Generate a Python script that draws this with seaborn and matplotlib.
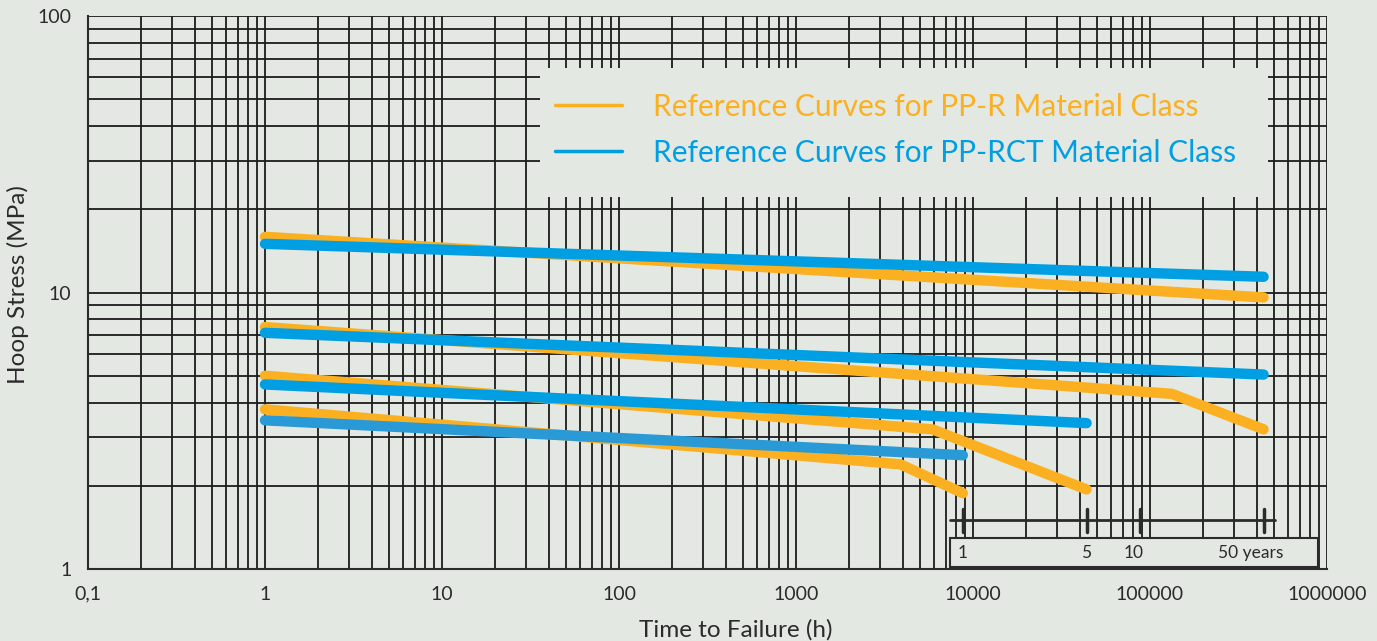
import numpy as np
import pandas as pd
import matplotlib
matplotlib.use("Agg")
import matplotlib.pyplot as plt
from matplotlib.patches import Rectangle
import seaborn as sns

# reference curves: (time in h, hoop stress in MPa)
ppr_times = [
    [1, 438000],
    [1, 133000, 438000],
    [1, 5900, 43800],
    [1, 3900, 8760],
]
ppr_stress = [
    [15.9, 9.6],
    [7.5, 4.3, 3.2],
    [5.0, 3.2, 1.94],
    [3.78, 2.39, 1.88],
]
rct_times = [
    [1, 438000],
    [1, 438000],
    [1, 43800],
    [1, 8760],
]
rct_stress = [
    [15.0, 11.4],
    [7.15, 5.05],
    [4.65, 3.37],
    [3.45, 2.58],
]

year_hours = [8760, 43800, 87600, 438000]
year_labels = ["1", "5", "10", "50 years"]

x_ticks = [0.1, 1, 10, 100, 1000, 10000, 100000, 1000000]
x_tick_labels = ["0,1", "1", "10", "100", "1000", "10000", "100000", "1000000"]
y_ticks = [1, 10, 100]
y_tick_labels = ["1", "10", "100"]

BG = "#e3e8e2"
ORANGE = "#fbb022"
BLUE = "#009fe3"
BLUE_LOW = "#2a9ad6"
INK = "#2b2b2b"

rows = []
for i, (t, s) in enumerate(zip(ppr_times, ppr_stress)):
    for tt, ss in zip(t, s):
        rows.append(("PP-R", f"r{i}", tt, ss))
for i, (t, s) in enumerate(zip(rct_times, rct_stress)):
    for tt, ss in zip(t, s):
        rows.append(("PP-RCT", f"c{i}", tt, ss))
df = pd.DataFrame(rows, columns=["material", "curve", "time", "stress"])

sns.set_theme(style="white")
plt.rcParams["font.family"] = ["Lato", "DejaVu Sans"]

fig = plt.figure(figsize=(13.77, 6.41), dpi=100, facecolor=BG)
ax = fig.add_axes([0.0639, 0.1123, 0.8998, 0.8627])
ax.set_facecolor(BG)
ax.set_xscale("log")
ax.set_yscale("log")
ax.set_xlim(0.1, 1e6)
ax.set_ylim(1, 100)

ax.set_axisbelow(True)
ax.grid(True, which="both", color="#1c1c1c", linewidth=1.3)

colors = {"r0": ORANGE, "r1": ORANGE, "r2": ORANGE, "r3": ORANGE,
          "c0": BLUE, "c1": BLUE, "c2": BLUE, "c3": BLUE_LOW}
for name, grp in df.groupby("curve", sort=False):
    sns.lineplot(data=grp, x="time", y="stress", ax=ax, color=colors[name],
                 linewidth=7.5, sort=False, estimator=None,
                 solid_capstyle="round", solid_joinstyle="round", legend=False)

# legend panel
ax.add_patch(Rectangle((0.365, 0.673), 0.587, 0.233, transform=ax.transAxes,
                       facecolor=BG, edgecolor="none", zorder=1.5))
h1, = ax.plot([], [], color=ORANGE, linewidth=2.5)
h2, = ax.plot([], [], color=BLUE, linewidth=2.5)
leg = ax.legend([h1, h2], ["Reference Curves for PP-R Material Class",
                           "Reference Curves for PP-RCT Material Class"],
                loc="upper left", bbox_to_anchor=(0.355, 0.91), frameon=False,
                fontsize=21.5, handlelength=2.25, handletextpad=1.05, labelspacing=0.6)
for txt, c in zip(leg.get_texts(), [ORANGE, BLUE]):
    txt.set_color(c)

# years timeline
ax.plot([7400, 5.1e5], [1.5, 1.5], color=INK, linewidth=2, zorder=3)
for h in year_hours:
    ax.plot([h, h], [1.36, 1.65], color=INK, linewidth=2.5, zorder=3)
ax.add_patch(Rectangle((7400, 1.018), 8.9e5 - 7400, 1.29 - 1.018,
                       facecolor=BG, edgecolor=INK, linewidth=1.5, zorder=3))
label_shift = [0.93, 1.0, 0.92, 0.85]
for h, lab, k in zip(year_hours, year_labels, label_shift):
    ha = "left" if lab == "1" else "center"
    ax.text(h * k, 1.145, lab, ha=ha, va="center", fontsize=12.5, color=INK, zorder=4)

ax.set_xticks(x_ticks)
ax.set_xticklabels(x_tick_labels)
ax.set_yticks(y_ticks)
ax.set_yticklabels(y_tick_labels)
ax.tick_params(axis="both", which="major", direction="out", length=5, width=1.2,
               color=INK, labelsize=14, labelcolor=INK, pad=7)
ax.tick_params(axis="both", which="minor", length=0)

for side in ["top", "right"]:
    ax.spines[side].set_visible(False)
for side in ["left", "bottom"]:
    ax.spines[side].set_color(INK)
    ax.spines[side].set_linewidth(1.5)

ax.set_xlabel("Time to Failure (h)", fontsize=17.5, color=INK)
ax.set_ylabel("Hoop Stress (MPa)", fontsize=17.5, color=INK)
ax.xaxis.set_label_coords(0.523, -0.11)
ax.yaxis.set_label_coords(-0.0565, 0.514)
ax.xaxis.label.set_va("center")
ax.yaxis.label.set_va("center")

fig.savefig("out.png", dpi=100, facecolor=BG)
